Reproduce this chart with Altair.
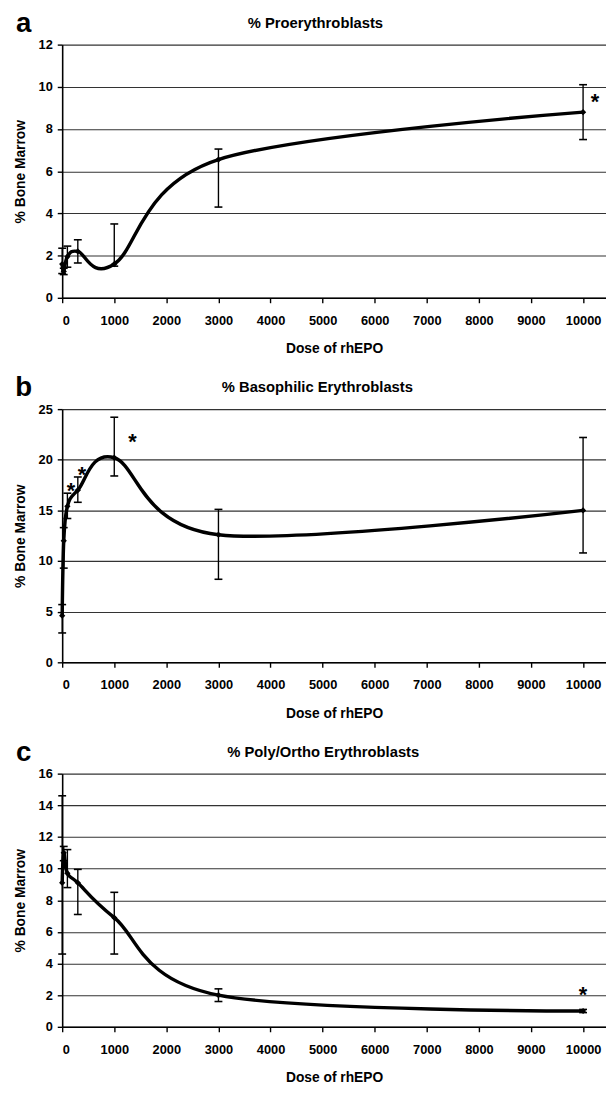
import altair as alt
import pandas as pd

FONT = "Liberation Sans"

doses = [0, 30, 100, 300, 1000, 3000, 10000]
x_ticks = [0, 1000, 2000, 3000, 4000, 5000, 6000, 7000, 8000, 9000, 10000]
X_MAX = 10440

# a: % Proerythroblasts
pro_mean = [1.6, 1.25, 1.95, 2.2, 1.6, 6.55, 8.8]
pro_lo = [1.15, 1.1, 1.45, 1.65, 1.5, 4.3, 7.5]
pro_hi = [2.35, 1.4, 2.45, 2.75, 3.5, 7.05, 10.1]
pro_star_x = [10230]
pro_star_y = [9.5]

# b: % Basophilic Erythroblasts
baso_mean = [4.6, 12.0, 15.4, 17.0, 20.2, 12.6, 15.0]
baso_lo = [2.9, 9.3, 14.2, 15.8, 18.4, 8.2, 10.8]
baso_hi = [5.7, 13.3, 16.7, 18.3, 24.2, 15.1, 22.2]
baso_star_x = [170, 380, 1350]
baso_star_y = [17.4, 19.0, 22.2]

# c: % Poly/Ortho Erythroblasts
poly_mean = [9.1, 11.0, 9.7, 9.1, 6.9, 2.0, 1.0]
poly_lo = [4.6, 10.5, 8.8, 7.1, 4.6, 1.6, 0.9]
poly_hi = [14.6, 11.4, 11.2, 9.95, 8.5, 2.4, 1.1]
poly_star_x = [10000]
poly_star_y = [2.3]


def panel(letter, title, mean, lo, hi, ymax, ystep, star_x, star_y, title_x):
    df = pd.DataFrame({"dose": doses, "mean": mean, "lo": lo, "hi": hi})
    stars = pd.DataFrame({"dose": star_x, "mean": star_y, "t": ["*"] * len(star_x)})
    lab = pd.DataFrame({"t": [letter], "title": [title]})

    xsc = alt.Scale(domain=[0, X_MAX], nice=False, zero=True)
    ysc = alt.Scale(domain=[0, ymax], nice=False)
    xax = alt.Axis(values=x_ticks, grid=False, labelPadding=12, titlePadding=15,
                   format="d", labelOverlap=False)
    yax = alt.Axis(values=list(range(0, ymax + 1, ystep)), grid=True,
                   labelPadding=5, titlePadding=11, labelOverlap=False)

    def X(field):
        return alt.X(field, type="quantitative", scale=xsc, axis=xax,
                     title="Dose of rhEPO")

    def Y(field):
        return alt.Y(field, type="quantitative", scale=ysc, axis=yax,
                     title="% Bone Marrow")

    base = alt.Chart(df)
    line = base.mark_line(interpolate="cardinal", tension=0, color="black",
                          strokeWidth=3.5).encode(x=X("dose"), y=Y("mean"))
    rule = base.mark_rule(color="black", strokeWidth=1.4).encode(
        x=X("dose"), y=Y("lo"), y2="hi:Q")
    cap_lo = base.mark_tick(orient="horizontal", color="black", size=8,
                            thickness=1.6, opacity=1).encode(x=X("dose"), y=Y("lo"))
    cap_hi = base.mark_tick(orient="horizontal", color="black", size=8,
                            thickness=1.6, opacity=1).encode(x=X("dose"), y=Y("hi"))
    pts = base.mark_point(shape="diamond", filled=True, size=40, color="black",
                          opacity=1).encode(x=X("dose"), y=Y("mean"))
    star = alt.Chart(stars).mark_text(fontSize=22, fontWeight="bold", font=FONT,
                                      baseline="middle", dy=5, color="black").encode(
        x=X("dose"), y=Y("mean"), text="t:N")
    letter_mark = alt.Chart(lab).mark_text(fontSize=28, fontWeight="bold", font=FONT,
                                           align="center", baseline="middle",
                                           color="black").encode(
        x=alt.value(-39), y=alt.value(-21), text="t:N")
    title_mark = alt.Chart(lab).mark_text(fontSize=15, fontWeight="bold", font=FONT,
                                          align="center", baseline="middle",
                                          color="black").encode(
        x=alt.value(title_x), y=alt.value(-22), text="title:N")

    return alt.layer(rule, cap_lo, cap_hi, line, pts, star, letter_mark,
                     title_mark).properties(width=552, height=257)


pa = panel("a", "% Proerythroblasts", pro_mean, pro_lo, pro_hi, 12, 2,
           pro_star_x, pro_star_y, 257)
pb = panel("b", "% Basophilic Erythroblasts", baso_mean, baso_lo, baso_hi, 25, 5,
           baso_star_x, baso_star_y, 259)
pc = panel("c", "% Poly/Ortho Erythroblasts", poly_mean, poly_lo, poly_hi, 16, 2,
           poly_star_x, poly_star_y, 265)

chart = alt.vconcat(pa, pb, pc, spacing=113, bounds="flush").properties(
    padding={"left": 5, "top": -6, "right": 0, "bottom": 0}
).configure(font=FONT).configure_view(stroke=None).configure_axis(
    labelFont=FONT, labelFontSize=13, labelFontWeight="bold", labelColor="black",
    titleFont=FONT, titleFontSize=14, titleFontWeight="bold", titleColor="black",
    domainColor="black", domainWidth=1.6, tickColor="black", tickSize=5,
    tickWidth=1.4, gridColor="#333333", gridWidth=1.1, gridOpacity=1,
)

chart.save("out.html", embed_options={"renderer": "svg", "actions": False})
